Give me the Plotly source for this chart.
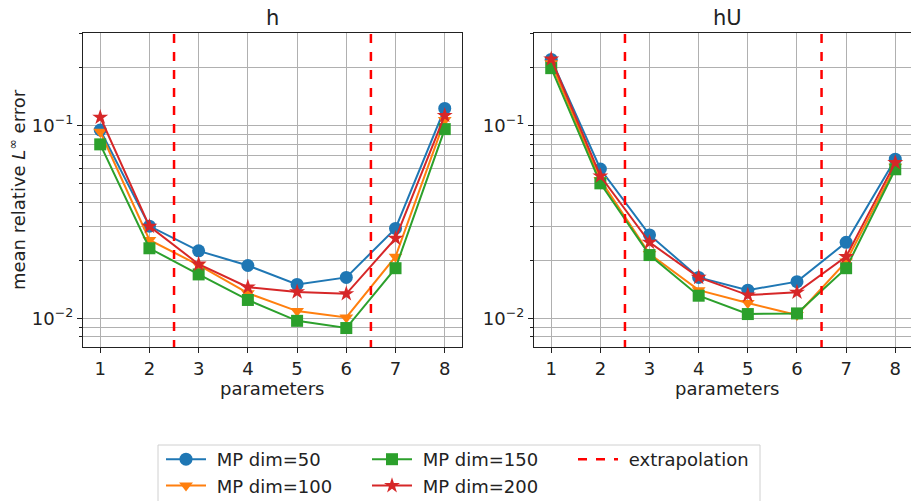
import plotly.graph_objects as go

params = [1, 2, 3, 4, 5, 6, 7, 8]

h_dim50 = [0.095, 0.0301, 0.0224, 0.0188, 0.0150, 0.0163, 0.0293, 0.123]
h_dim100 = [0.093, 0.0255, 0.0189, 0.0135, 0.0109, 0.0101, 0.0209, 0.107]
h_dim150 = [0.080, 0.0231, 0.0169, 0.01245, 0.0097, 0.0089, 0.0182, 0.096]
h_dim200 = [0.1106, 0.0300, 0.0191, 0.0145, 0.0137, 0.0134, 0.0260, 0.113]

hU_dim50 = [0.221, 0.0596, 0.0271, 0.0163, 0.0140, 0.0155, 0.0248, 0.067]
hU_dim100 = [0.211, 0.0523, 0.0216, 0.0140, 0.0120, 0.0104, 0.0197, 0.0613]
hU_dim150 = [0.199, 0.0502, 0.0213, 0.0131, 0.01052, 0.0106, 0.0182, 0.0594]
hU_dim200 = [0.222, 0.0548, 0.0248, 0.0163, 0.0132, 0.01365, 0.0209, 0.0643]

series_names = ["MP dim=50", "MP dim=100", "MP dim=150", "MP dim=200"]
extrap_name = "extrapolation"
colors = ["#1f77b4", "#ff7f0e", "#2ca02c", "#d62728"]
symbols = ["circle", "triangle-down", "square", "star"]
sizes = [13, 12, 12, 12]

extrap_x = [2.5, 2.5, None, 6.5, 6.5]
extrap_y = [0.001, 1.0, None, 0.001, 1.0]

ytick_vals = [0.01, 0.1]
ytick_text = ["10<sup>−2</sup>", "10<sup>−1</sup>"]
yminor_vals = [0.007, 0.008, 0.009, 0.02, 0.03, 0.04, 0.05, 0.06, 0.07, 0.08, 0.09, 0.2, 0.3]

FONT = "DejaVu Sans"
TXT = "#222222"
NB = "\u00a0"
fig = go.Figure()

panels = [
    ("x", "y", [h_dim50, h_dim100, h_dim150, h_dim200]),
    ("x2", "y2", [hU_dim50, hU_dim100, hU_dim150, hU_dim200]),
]

legend_of = ["legend", "legend", "legend2", "legend2"]
for pi, (xa, ya, data) in enumerate(panels):
    for i, vals in enumerate(data):
        fig.add_trace(go.Scatter(
            x=params, y=vals, xaxis=xa, yaxis=ya, mode="lines+markers",
            name=NB + series_names[i], showlegend=(pi == 0), legend=legend_of[i],
            line=dict(color=colors[i], width=2),
            marker=dict(symbol=symbols[i], size=sizes[i], color=colors[i]),
        ))
    fig.add_trace(go.Scatter(
        x=extrap_x, y=extrap_y, xaxis=xa, yaxis=ya, mode="lines",
        name=NB + extrap_name, showlegend=(pi == 0), legend="legend3",
        line=dict(color="#ff0000", width=2.5, dash="dash"), hoverinfo="skip",
    ))

axis_common = dict(
    showline=True, linecolor=TXT, linewidth=1.2, mirror=True,
    showgrid=True, gridcolor="#b0b0b0", gridwidth=1,
    ticks="outside", ticklen=5, tickcolor=TXT,
    tickfont=dict(family=FONT, size=18, color=TXT),
    zeroline=False, automargin=False,
)
xaxis_extra = dict(range=[0.65, 8.35], tickvals=params, ticktext=[str(p) for p in params])
yaxis_extra = dict(type="log", range=[-2.149, -0.519], tickvals=ytick_vals, ticktext=ytick_text,
                   minor=dict(tickvals=yminor_vals, showgrid=True, gridcolor="#b0b0b0", gridwidth=1,
                              ticks="outside", ticklen=3, tickcolor=TXT))

L1, R1, L2, R2 = 0.0911, 0.5071, 0.5862, 1.0
B, T = 0.3074, 0.934

def leg(xpx):
    return dict(orientation="v", x=xpx / 911, y=1 - 441 / 501, xanchor="left", yanchor="top",
                bgcolor="rgba(0,0,0,0)", borderwidth=0, itemwidth=40, tracegroupgap=0,
                font=dict(family=FONT, size=18, color=TXT))

fig.update_layout(
    width=911, height=501,
    margin=dict(l=0, r=0, t=0, b=0, autoexpand=False),
    paper_bgcolor="white", plot_bgcolor="white",
    font=dict(family=FONT, size=18, color=TXT),
    xaxis=dict(domain=[L1, R1], anchor="y", **axis_common, **xaxis_extra),
    yaxis=dict(domain=[B, T], anchor="x", **axis_common, **yaxis_extra),
    xaxis2=dict(domain=[L2, R2], anchor="y2", **axis_common,
                **{**xaxis_extra, "range": [0.65, 8.32]}),
    yaxis2=dict(domain=[B, T], anchor="x2", **axis_common, **yaxis_extra),
    legend=leg(161), legend2=leg(367), legend3=leg(573),
    shapes=[dict(type="rect", xref="paper", yref="paper", x0=158 / 911, x1=760 / 911,
                 y0=1 - 445 / 501, y1=-0.1, line=dict(color="#d0d0d0", width=1),
                 fillcolor="rgba(0,0,0,0)", layer="above")],
    annotations=[
        dict(text="h", x=(L1 + R1) / 2, y=1 - 18 / 501, xref="paper", yref="paper",
             xanchor="center", yanchor="middle", showarrow=False, font=dict(family=FONT, size=21, color=TXT)),
        dict(text="hU", x=(0.5862 + 1.0107) / 2, y=1 - 18 / 501, xref="paper", yref="paper",
             xanchor="center", yanchor="middle", showarrow=False, font=dict(family=FONT, size=21, color=TXT)),
        dict(text="parameters", x=(L1 + R1) / 2, y=1 - 388 / 501, xref="paper", yref="paper",
             xanchor="center", yanchor="middle", showarrow=False, font=dict(family=FONT, size=18, color=TXT)),
        dict(text="parameters", x=(0.5862 + 1.0107) / 2, y=1 - 388 / 501, xref="paper", yref="paper",
             xanchor="center", yanchor="middle", showarrow=False, font=dict(family=FONT, size=18, color=TXT)),
        dict(text="mean relative <i>L</i><sup>∞</sup> error", x=17 / 911, y=(B + T) / 2,
             xref="paper", yref="paper", xanchor="center", yanchor="middle", textangle=-90,
             showarrow=False, font=dict(family=FONT, size=18, color=TXT)),
    ],
    showlegend=True,
)

fig.write_html("out.html", config={"displayModeBar": False},
               post_script="document.body.style.margin='0px';document.body.style.overflow='hidden';")
